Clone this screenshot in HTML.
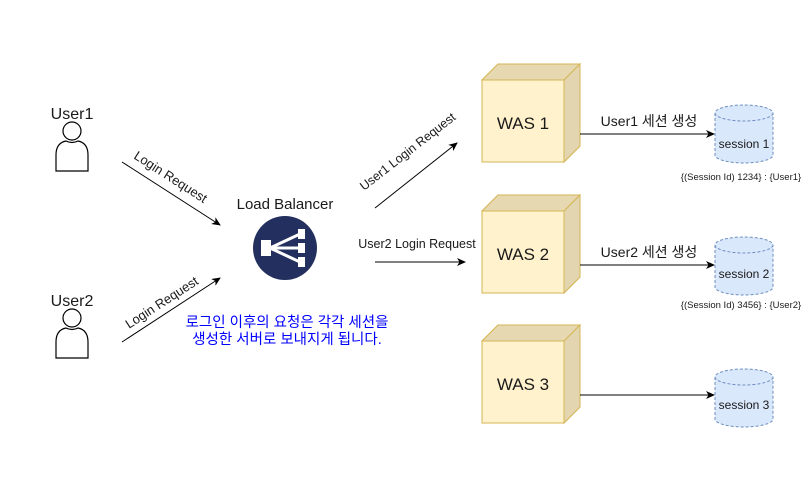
<!DOCTYPE html>
<html><head><meta charset="utf-8"><style>
html,body{margin:0;padding:0;background:#fff}
svg{display:block}
text{font-family:"Liberation Sans","Noto Sans CJK KR",sans-serif;fill:#1a1a1a}
</style></head><body>
<svg width="810" height="480" viewBox="0 0 810 480" xmlns="http://www.w3.org/2000/svg">
<defs>
<marker id="a" markerWidth="10" markerHeight="10" refX="8" refY="5" orient="auto" markerUnits="userSpaceOnUse">
<path d="M0,1 L9,5 L0,9 L2.5,5 Z" fill="#000"/></marker>
<g id="user">
<circle cx="0" cy="0" r="9" fill="#fff" stroke="#000" stroke-width="1.2"/>
<path d="M-16,40 L-16,24 Q-16,12 -6,10 Q0,13 6,10 Q16,12 16,24 L16,40 Z" fill="#fff" stroke="#000" stroke-width="1.2"/>
</g>
<g id="cube">
<path d="M0,16 L16,0 L98,0 L98,82 L82,98 L0,98 Z" fill="#fff2cc" stroke="#d6b656"/>
<path d="M0,16 L16,0 L98,0 L82,16 Z" fill="#e6d8b0" stroke="#d6b656"/>
<path d="M82,16 L98,0 L98,82 L82,98 Z" fill="#e3d5b0" stroke="#d6b656"/>
<rect x="0" y="16" width="82" height="82" fill="#fff2cc" stroke="#d6b656"/>
</g>
<g id="cyl">
<path d="M0,8 L0,50 A29,8 0 0 0 58,50 L58,8" fill="#dae8fc" stroke="#6c8ebf" stroke-dasharray="3,2"/>
<ellipse cx="29" cy="8" rx="29" ry="8" fill="#dae8fc" stroke="#6c8ebf" stroke-dasharray="3,2"/>
</g>
</defs>

<text x="72" y="119" font-size="16" text-anchor="middle">User1</text>
<use href="#user" x="72" y="131"/>
<text x="72" y="306" font-size="16" text-anchor="middle">User2</text>
<use href="#user" x="72" y="318"/>

<line x1="122" y1="162" x2="220" y2="225" stroke="#000" marker-end="url(#a)"/>
<text font-size="13" transform="translate(133,158) rotate(32.7)">Login Request</text>
<line x1="122" y1="342" x2="220" y2="278" stroke="#000" marker-end="url(#a)"/>
<text font-size="13" transform="translate(129,329) rotate(-33)">Login Request</text>

<text x="285" y="209" font-size="15" text-anchor="middle">Load Balancer</text>
<circle cx="285" cy="248" r="32" fill="#232f5e"/>
<g fill="#fff" stroke="#fff">
<rect x="261" y="240" width="10" height="16" stroke="none"/>
<line x1="270" y1="248" x2="300" y2="234" stroke-width="3"/>
<line x1="270" y1="248" x2="300" y2="248" stroke-width="3"/>
<line x1="270" y1="248" x2="300" y2="262" stroke-width="3"/>
<rect x="298" y="229" width="7" height="10" stroke="none"/>
<rect x="298" y="243" width="7" height="10" stroke="none"/>
<rect x="298" y="257" width="7" height="10" stroke="none"/>
</g>

<text x="287" y="327" font-size="14.5" text-anchor="middle" style="fill:#0000ff">로그인 이후의 요청은 각각 세션을</text>
<text x="287" y="344" font-size="14.5" text-anchor="middle" style="fill:#0000ff">생성한 서버로 보내지게 됩니다.</text>

<line x1="375" y1="208" x2="457" y2="143" stroke="#000" marker-end="url(#a)"/>
<text font-size="12.5" transform="translate(364,191) rotate(-38)">User1 Login Request</text>
<line x1="375" y1="262" x2="465" y2="262" stroke="#000" marker-end="url(#a)"/>
<text x="417" y="248" font-size="12.5" text-anchor="middle">User2 Login Request</text>

<use href="#cube" x="482" y="64"/>
<text x="523" y="129" font-size="17" text-anchor="middle">WAS 1</text>
<use href="#cube" x="482" y="195"/>
<text x="523" y="260" font-size="17" text-anchor="middle">WAS 2</text>
<use href="#cube" x="482" y="325"/>
<text x="523" y="390" font-size="17" text-anchor="middle">WAS 3</text>

<line x1="580" y1="134" x2="714" y2="134" stroke="#000" marker-end="url(#a)"/>
<text x="649" y="126" font-size="14" text-anchor="middle">User1 세션 생성</text>
<line x1="580" y1="265" x2="714" y2="265" stroke="#000" marker-end="url(#a)"/>
<text x="649" y="257" font-size="14" text-anchor="middle">User2 세션 생성</text>
<line x1="580" y1="395" x2="714" y2="395" stroke="#000" marker-end="url(#a)"/>

<use href="#cyl" x="715" y="105"/>
<text x="744" y="148" font-size="12" text-anchor="middle">session 1</text>
<text x="741" y="180" font-size="9.5" text-anchor="middle">{(Session Id) 1234} : {User1}</text>
<use href="#cyl" x="715" y="237"/>
<text x="744" y="278" font-size="12" text-anchor="middle">session 2</text>
<text x="741" y="308" font-size="9.5" text-anchor="middle">{(Session Id) 3456} : {User2}</text>
<use href="#cyl" x="715" y="369"/>
<text x="744" y="409" font-size="12" text-anchor="middle">session 3</text>
</svg>
</body></html>
